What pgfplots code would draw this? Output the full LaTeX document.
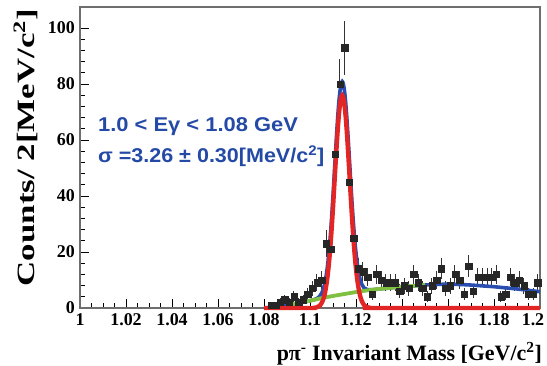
\documentclass[border=0pt]{standalone}
\usepackage{fontspec}
\setmainfont{Liberation Serif}
\setsansfont{Liberation Sans}
\usepackage{graphicx}
\usepackage{pgfplots}
\usepackage{pgfplotstable}
\pgfplotsset{compat=1.18}

\definecolor{fitred}{RGB}{226,38,38}
\definecolor{fitblue}{RGB}{42,78,176}
\definecolor{bkggreen}{RGB}{128,192,64}
\definecolor{txtblue}{RGB}{36,74,166}
\definecolor{framegray}{RGB}{110,110,110}

% counts per 2 MeV bin (bin centre, entries)
\pgfplotstableread{
x y
1.083 1
1.085 1
1.087 2
1.089 3
1.091 2
1.093 4
1.095 2
1.097 3
1.099 5
1.101 7
1.103 9
1.105 10
1.107 23
1.109 21
1.111 55
1.113 80
1.115 93
1.117 45
1.119 25
1.121 14
1.123 13
1.125 11
1.127 5
1.129 12
1.131 10
1.133 9
1.135 9
1.137 9
1.139 6
1.141 8
1.143 7
1.145 12
1.147 9
1.149 7
1.151 4
1.153 8
1.155 10
1.157 14
1.159 7
1.161 8
1.163 12
1.165 10
1.167 5
1.169 15
1.171 6
1.173 11
1.175 11
1.177 11
1.179 11
1.181 12
1.183 4
1.185 5
1.187 11
1.189 9
1.191 10
1.193 8
1.195 5
1.197 5
1.199 9
}\counts

% total fit: signal + background
\pgfplotstableread{
x y
1.080 0
1.085 0.4
1.090 1.0
1.095 1.8
1.100 2.6
1.102 3.05
1.103 3.4
1.104 4.0
1.105 5.2
1.1055 6.1
1.106 7.4
1.1065 9.1
1.107 11.4
1.1075 14.3
1.108 18.0
1.1085 22.4
1.109 27.5
1.1095 33.5
1.110 40.1
1.1105 47.1
1.111 54.2
1.1115 61.1
1.112 67.6
1.1125 73.1
1.113 77.2
1.1135 79.9
1.114 80.9
1.1145 80.0
1.115 77.5
1.1155 73.5
1.116 68.1
1.1165 61.8
1.117 55.1
1.1175 48.1
1.118 41.2
1.1185 34.8
1.119 29.0
1.1195 23.9
1.120 19.7
1.1205 16.2
1.121 13.4
1.1215 11.3
1.122 9.6
1.1225 8.5
1.123 7.8
1.1235 7.2
1.124 6.9
1.125 6.6
1.126 6.5
1.128 6.6
1.130 6.8
1.135 7.2
1.140 7.6
1.145 7.9
1.150 8.2
1.155 8.4
1.160 8.5
1.165 8.4
1.170 8.2
1.175 7.9
1.180 7.6
1.185 7.2
1.190 6.8
1.195 6.3
1.200 5.8
}\totalfit

% signal Gaussian, sigma = 3.26 MeV
\pgfplotstableread{
x y
1.080 0
1.100 0
1.102 0.09
1.103 0.26
1.104 0.7
1.1045 1.09
1.105 1.7
1.1055 2.54
1.106 3.7
1.1065 5.39
1.107 7.6
1.1075 10.4
1.108 14.0
1.1085 18.3
1.109 23.4
1.1095 29.3
1.110 35.8
1.1105 42.7
1.111 49.8
1.1115 56.6
1.112 63.0
1.1125 68.4
1.113 72.5
1.1135 75.1
1.114 76.0
1.1145 75.1
1.115 72.5
1.1155 68.4
1.116 63.0
1.1165 56.6
1.117 49.8
1.1175 42.7
1.118 35.8
1.1185 29.3
1.119 23.4
1.1195 18.3
1.120 14.0
1.1205 10.4
1.121 7.6
1.1215 5.39
1.122 3.7
1.1225 2.54
1.123 1.7
1.1235 1.09
1.124 0.7
1.125 0.26
1.126 0.09
1.128 0
1.200 0
}\signal

% background shape
\pgfplotstableread{
x y
1.090 1.0
1.095 1.8
1.100 2.6
1.105 3.5
1.110 4.3
1.115 5.0
1.120 5.7
1.125 6.3
1.130 6.8
1.135 7.2
1.140 7.6
1.145 7.9
1.150 8.2
}\background

\begin{document}
\begin{tikzpicture}
\begin{axis}[
  scale only axis,
  width=460bp, height=301bp,
  xmin=1, xmax=1.2, ymin=0, ymax=107.5,
  xtick={1,1.02,1.04,1.06,1.08,1.1,1.12,1.14,1.16,1.18,1.2},
  xticklabels={1,1.02,1.04,1.06,1.08,1.1,1.12,1.14,1.16,1.18,\hspace*{-14bp}1.2},
  ytick={0,20,40,60,80,100},
  minor x tick num=3, minor y tick num=4,
  major tick length=9bp, minor tick length=5bp,
  xtick pos=bottom, ytick pos=left,
  tick align=inside,
  tick style={black, line width=0.9bp},
  axis line style={framegray, line width=1.6bp},
  clip=false,
  /pgf/number format/assume math mode=true,
  ticklabel style={font=\bfseries\fontsize{18}{18}\selectfont, inner sep=0pt},
  xticklabel style={yshift=-5bp},
  yticklabel style={xshift=-5bp},
  xlabel={pπ\textsuperscript{-} Invariant Mass [GeV/c\textsuperscript{2}]},
  xlabel style={at={(axis description cs:1,0)}, anchor=base east,
    yshift=-52bp, xshift=2bp, inner sep=0pt,
    font=\bfseries\fontsize{22}{22}\selectfont},
  ylabel={\scalebox{1.4}[1]{Counts/ 2[MeV/c\textsuperscript{2}]}},
  ylabel style={at={(axis description cs:-0.1185,0.533)}, anchor=center,
    inner sep=0pt, font=\bfseries\fontsize{25}{25}\selectfont},
]
\addplot[only marks, mark=square*, mark size=3.2bp,
  mark options={draw=black!85, fill=black!85},
  error bars/.cd, y dir=both, y explicit, x dir=both, x fixed=0.001,
  error mark=none, error bar style={line width=1.1bp, black!80}]
  table[x=x, y=y, y error expr={sqrt(\thisrow{y})}] {\counts};
\addplot[fitblue, line width=3.6bp, smooth] table {\totalfit};
\addplot[bkggreen, line width=3.8bp, smooth] table {\background};
\addplot[fitred, line width=4.4bp, smooth] table {\signal};

\node[anchor=base west, inner sep=0pt, text=txtblue,
  font=\sffamily\bfseries\fontsize{20}{20}\selectfont]
  at (axis cs:1.0078,62.9) {\scalebox{1.1}[1]{1.0 < Eγ < 1.08 GeV}};
\node[anchor=base west, inner sep=0pt, text=txtblue,
  font=\sffamily\bfseries\fontsize{20}{20}\selectfont]
  at (axis cs:1.0078,51.8) {\scalebox{1.08}[1]{σ =3.26 ± 0.30[MeV/c\textsuperscript{2}]}};
\end{axis}
\pgfresetboundingbox
\path[use as bounding box] (-80bp,-58bp) rectangle (467bp,308bp);
\end{tikzpicture}
\end{document}
